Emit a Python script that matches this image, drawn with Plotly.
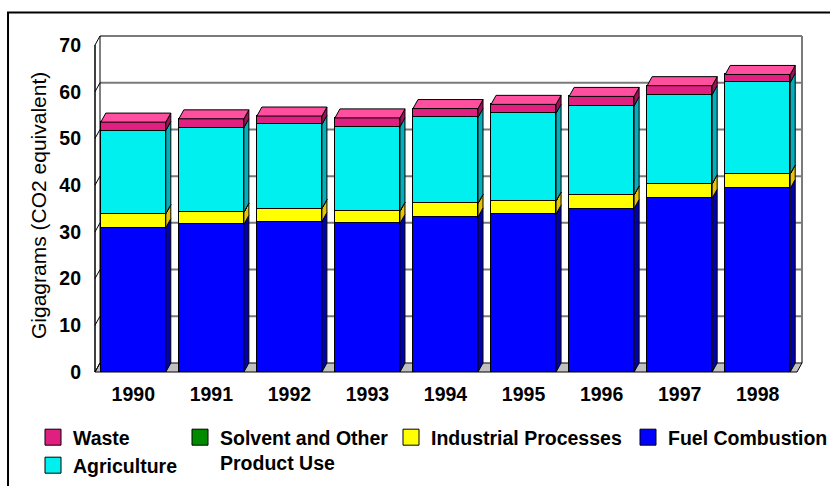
import numpy as np
import plotly.graph_objects as go

# ---------------- data (Gigagrams CO2 equivalent) ----------------
years = ["1990", "1991", "1992", "1993", "1994", "1995", "1996", "1997", "1998"]
fuel_combustion = [30.9, 31.6, 32.2, 31.8, 33.2, 33.8, 35.0, 37.2, 39.3]
industrial_processes = [3.0, 2.6, 2.8, 2.6, 2.9, 2.8, 2.9, 3.1, 3.1]
solvent_product_use = [0.0, 0.0, 0.0, 0.0, 0.0, 0.0, 0.0, 0.0, 0.0]
agriculture = [17.8, 18.1, 18.0, 18.1, 18.4, 18.8, 19.1, 19.1, 19.6]
waste = [1.8, 1.9, 1.8, 1.9, 1.9, 1.9, 2.0, 1.9, 1.7]
y_ticks = [0, 10, 20, 30, 40, 50, 60, 70]

# stacking order bottom -> top: (name, values, front colour, side colour)
series = [
    ("Fuel Combustion", fuel_combustion, "#0000FF", "#0000B0"),
    ("Industrial Processes", industrial_processes, "#FFFF00", "#E6C400"),
    ("Solvent and Other<br>Product Use", solvent_product_use, "#008A00", "#006000"),
    ("Agriculture", agriculture, "#00F0F0", "#00B0BC"),
    ("Waste", waste, "#E02080", "#A0105A"),
]
TOP_COLOR = "#FF50A0"

# ---------------- 3-D look geometry (layout constants) ----------------
BAR_W = 0.833          # bar width in category units
DX = 0.064             # depth offset in x (category units)
DY = 1.93              # depth offset in y (value units)
X_FRONT = -0.4907      # front-left axis position
X_RIGHT = 8.5676       # right edge of back wall
Y_TOP = y_ticks[-1]
X_RANGE = [-0.5548, 8.6188]
Y_RANGE = [-0.856, 73.22]

FONT = "Liberation Sans, Arial, Helvetica, sans-serif"

xpos = np.arange(len(years), dtype=float)
fig = go.Figure()

# front faces (real stacked bars)
for name, vals, col, _ in series:
    fig.add_trace(go.Bar(
        x=xpos, y=vals, width=BAR_W, name=name,
        marker=dict(color=col, line=dict(color="black", width=1)),
        showlegend=False, legendgroup=name,
        hovertemplate="%{customdata}: %{y}<extra>" + name.replace("<br>", " ") + "</extra>",
        customdata=years,
    ))

# side faces and top faces built from the stacked data
base = np.zeros(len(years))
xr = xpos + BAR_W / 2
xl = xpos - BAR_W / 2
for name, vals, col, side in series:
    v = np.asarray(vals, dtype=float)
    top = base + v
    sx, sy = [], []
    for i in range(len(years)):
        sx += [xr[i], xr[i] + DX, xr[i] + DX, xr[i], xr[i], None]
        sy += [base[i], base[i] + DY, top[i] + DY, top[i], base[i], None]
    fig.add_trace(go.Scatter(
        x=sx, y=sy, mode="lines", fill="toself", fillcolor=side,
        line=dict(color="black", width=1), hoverinfo="skip",
        showlegend=False, legendgroup=name,
    ))
    base = top

tx, ty = [], []
for i in range(len(years)):
    tx += [xl[i], xl[i] + DX, xr[i] + DX, xr[i], xl[i], None]
    ty += [base[i], base[i] + DY, base[i] + DY, base[i], base[i], None]
fig.add_trace(go.Scatter(
    x=tx, y=ty, mode="lines", fill="toself", fillcolor=TOP_COLOR,
    line=dict(color="black", width=1), hoverinfo="skip",
    showlegend=False, legendgroup="Waste",
))

# ---------------- legend (one legend box per entry) ----------------
legend_entries = [
    ("Waste", "#E02080", "legend", 73, 437),
    ("Solvent and Other<br>Product Use", "#008A00", "legend2", 220, 437),
    ("Industrial Processes", "#FFFF00", "legend3", 431, 437),
    ("Fuel Combustion", "#0000FF", "legend4", 668, 437),
    ("Agriculture", "#00F0F0", "legend5", 73, 465),
]
legend_layout = {}
for name, col, lg, text_x, row_y in legend_entries:
    fig.add_trace(go.Scatter(
        x=[None], y=[None], mode="markers", name=name, legend=lg, legendgroup=name,
        marker=dict(symbol="square", size=16, color=col, line=dict(color="black", width=1)),
        showlegend=True,
    ))
    legend_layout[lg] = dict(
        x=(text_x - 40) / 830, y=1 - (row_y - 19) / 486,
        xref="container", yref="container", xanchor="left", yanchor="top",
        bgcolor="rgba(0,0,0,0)", borderwidth=0, itemsizing="trace", valign="top",
        font=dict(family=FONT, size=19.5, color="black", weight=700),
        tracegroupgap=0,
    )

# ---------------- walls, floor, gridlines ----------------
shapes = []
# back wall
shapes.append(dict(type="rect", xref="x", yref="y", x0=X_FRONT + DX, x1=X_RIGHT,
                   y0=DY, y1=Y_TOP + DY, fillcolor="white", line=dict(width=0), layer="below"))
for v in y_ticks[1:]:
    shapes.append(dict(type="line", xref="x", yref="y", x0=X_FRONT + DX, x1=X_RIGHT,
                       y0=v + DY, y1=v + DY, line=dict(color="#7A7A7A", width=2), layer="below"))
shapes.append(dict(type="line", xref="x", yref="y", x0=X_RIGHT, x1=X_RIGHT,
                   y0=DY, y1=Y_TOP + DY, line=dict(color="#7A7A7A", width=2), layer="below"))
# floor
shapes.append(dict(type="path", xref="x", yref="y",
                   path=f"M{X_FRONT},0 L{X_RIGHT - DX},0 L{X_RIGHT},{DY} L{X_FRONT + DX},{DY} Z",
                   fillcolor="#C0C0C0", line=dict(color="black", width=1), layer="below"))
# left wall
shapes.append(dict(type="line", xref="x", yref="y", x0=X_FRONT + DX, x1=X_FRONT + DX,
                   y0=DY, y1=Y_TOP + DY, line=dict(color="black", width=1), layer="below"))
shapes.append(dict(type="line", xref="x", yref="y", x0=X_FRONT, x1=X_FRONT,
                   y0=0, y1=Y_TOP, line=dict(color="black", width=1.5), layer="below"))
for v in y_ticks:
    shapes.append(dict(type="line", xref="x", yref="y", x0=X_FRONT, x1=X_FRONT + DX,
                       y0=v, y1=v + DY, line=dict(color="black", width=1), layer="below"))
# outer chart border
shapes.append(dict(type="rect", xref="paper", yref="paper", x0=-0.1145, x1=1.05,
                   y0=-0.35, y1=1.0506, line=dict(color="black", width=2), layer="above"))

fig.update_layout(
    width=830, height=486,
    margin=dict(l=90, r=24, t=30, b=110, autoexpand=False),
    paper_bgcolor="white", plot_bgcolor="white",
    barmode="stack", bargap=0,
    shapes=shapes,
    font=dict(family=FONT, color="black"),
    annotations=[dict(
        text="Gigagrams (CO2 equivalent)", textangle=-90,
        xref="paper", yref="paper", x=(38 - 90) / 716, y=(376 - 206) / 346,
        xanchor="center", yanchor="middle", showarrow=False,
        font=dict(family=FONT, size=21, color="black"),
    )],
    **legend_layout,
)
fig.update_xaxes(
    range=X_RANGE, tickmode="array", tickvals=list(xpos), ticktext=years,
    showgrid=False, zeroline=False, showline=False, ticks="",
    tickfont=dict(family=FONT, size=19.5, color="black", weight=700),
    ticklabelstandoff=4, fixedrange=True, automargin=False,
)
fig.update_yaxes(
    range=Y_RANGE, tickmode="array", tickvals=y_ticks,
    showgrid=False, zeroline=False, showline=False, ticks="",
    tickfont=dict(family=FONT, size=19.5, color="black", weight=700),
    ticklabelstandoff=8, fixedrange=True, automargin=False,
)

fig.write_html("out.html", config={"displayModeBar": False},
               post_script="document.body.style.margin='0px';")
